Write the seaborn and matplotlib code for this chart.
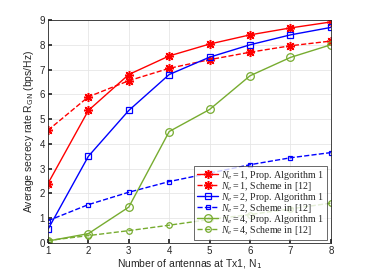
import numpy as np
import pandas as pd
import matplotlib
matplotlib.use("Agg")
import matplotlib.pyplot as plt
import seaborn as sns

# antennas at Tx1
n1 = [1, 2, 3, 4, 5, 6, 7, 8]

# average secrecy rate values
ne1_prop = [2.4, 5.35, 6.8, 7.55, 8.03, 8.4, 8.68, 8.92]
ne1_ref = [4.55, 5.9, 6.55, 7.05, 7.4, 7.7, 7.96, 8.15]
ne2_prop = [0.55, 3.5, 5.35, 6.8, 7.5, 8.0, 8.4, 8.7]
ne2_ref = [0.9, 1.55, 2.05, 2.48, 2.82, 3.16, 3.44, 3.65]
ne4_prop = [0.08, 0.38, 1.45, 4.5, 5.39, 6.75, 7.49, 8.0]
ne4_ref = [0.1, 0.3, 0.5, 0.72, 0.95, 1.15, 1.38, 1.61]

labels = [r"$N_e=1$, Prop. Algorithm 1", r"$N_e=1$, Scheme in [12]",
          r"$N_e=2$, Prop. Algorithm 1", r"$N_e=2$, Scheme in [12]",
          r"$N_e=4$, Prop. Algorithm 1", r"$N_e=4$, Scheme in [12]"]
series = [ne1_prop, ne1_ref, ne2_prop, ne2_ref, ne4_prop, ne4_ref]

sns.set_theme(style="ticks")
plt.rcParams["font.family"] = ["Liberation Sans", "DejaVu Sans"]
plt.rcParams["mathtext.fontset"] = "custom"
plt.rcParams["mathtext.rm"] = "Liberation Serif"
plt.rcParams["mathtext.it"] = "Liberation Serif:italic"

# matlab-like asterisk: 8 arms
star = (8, 2, 0)
# style per curve: color, marker, dashed, marker size
styles = [
    ("#ff0000", star, False, 6.5),
    ("#ff0000", star, True, 6.5),
    ("#0000ff", "s", False, 4.8),
    ("#0000ff", "s", True, 3.3),
    ("#77ac30", "o", False, 5.5),
    ("#77ac30", "o", True, 4.0),
]

fig = plt.figure(figsize=(3.66, 2.74), dpi=100)
ax = fig.add_axes([0.131, 0.113, 0.773, 0.814])

for vals, lab, (c, m, dashed, ms) in zip(series, labels, styles):
    df = pd.DataFrame({"N1": n1, "rate": vals})
    filled = m == star
    sns.lineplot(data=df, x="N1", y="rate", ax=ax, color=c, marker=m,
                 markersize=ms, linewidth=1.0,
                 linestyle="--" if dashed else "-",
                 markerfacecolor=c if filled else "none",
                 markeredgecolor=c, markeredgewidth=1.1 if filled else 0.9,
                 dashes=False, label=lab)

ax.set_xlim(1, 8)
ax.set_ylim(0, 9)
ax.set_xticks(n1)
ax.set_yticks(range(0, 10))
ax.grid(True, color="#e6e6e6", linewidth=0.6)
ax.tick_params(direction="in", length=3, labelsize=7, colors="#262626", pad=2)
for s in ax.spines.values():
    s.set_color("#262626")
    s.set_linewidth(0.6)
ax.set_xlabel("Number of antennas at Tx1, N$_\\mathsf{1}$", fontsize=7.5, labelpad=1, color="#262626")
ax.set_ylabel("Average secrecy rate R$_\\mathsf{GN}$ (bps/Hz)", fontsize=7.5, labelpad=3, color="#262626")

leg = ax.legend(loc="lower right", frameon=True, fancybox=False,
                edgecolor="#262626", handlelength=2.1, borderpad=0.3,
                labelspacing=-0.2, handletextpad=0.3, borderaxespad=0.35,
                prop={"family": "Liberation Serif", "size": 7.2})
leg.get_frame().set_linewidth(0.6)

fig.savefig("out.png", dpi=100)
